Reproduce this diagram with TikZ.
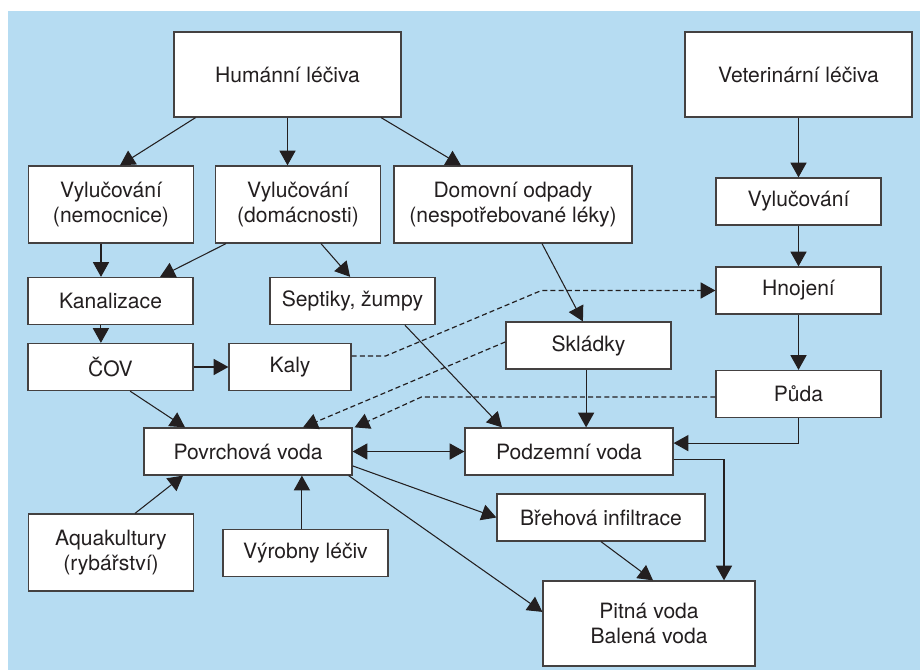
\documentclass[tikz,border=0pt]{standalone}
\usepackage{fontspec}
\setmainfont{TeX Gyre Heros}
\usetikzlibrary{arrows.meta}
\definecolor{bgblue}{RGB}{182,220,242}
\definecolor{ink}{RGB}{35,31,32}
\begin{document}
\begin{tikzpicture}[
  x=0.25mm,
  y=-0.25mm,
  font=\fontsize{15}{18}\selectfont,
  box/.style={
    draw=ink!85,
    fill=white,
    text=ink,
    line width=0.9pt,
    align=center,
    inner sep=0pt,
    minimum width=41.25mm,
    minimum height=11.75mm
  },
  tallbox/.style={box, minimum height=19.25mm},
  bigbox/.style={box, minimum width=56.75mm, minimum height=21.25mm},
  widebox/.style={box, minimum width=52mm},
  tip/.tip={Triangle[length=10.5pt,width=11.5pt]},
  flow/.style={draw=ink, line width=0.75pt, -tip},
  dflow/.style={flow, line width=0.85pt, dash pattern=on 3.6pt off 2.2pt}
]

% background panel
\useasboundingbox (0,0) rectangle (920,670);
\fill[bgblue] (8,11) rectangle (920,670);

% ---------------------------------------------------------------------------
% human side
% ---------------------------------------------------------------------------
\node[bigbox] (hum) at (287.5,74.5) {Humánní léčiva};
\node[tallbox] (vylnem) at (111,204.5) {Vylučování\\(nemocnice)};
\node[tallbox] (vyldom) at (298,204.5) {Vylučování\\(domácnosti)};
\node[tallbox, minimum width=59.5mm] (odpady) at (513,204.5)
  {Domovní odpady\\(nespotřebované léky)};
\node[box] (kanal) at (110.5,301) {Kanalizace};
\node[box] (septik) at (352.5,301) {Septiky, žumpy};
\node[box] (cov) at (110.5,367) {ČOV};
\node[box, minimum width=30.5mm] (kaly) at (290,367) {Kaly};
\node[box] (skladky) at (588.5,345.5) {Skládky};

% ---------------------------------------------------------------------------
% veterinary side
% ---------------------------------------------------------------------------
\node[bigbox] (vet) at (798.5,74.5) {Veterinární léčiva};
\node[box] (vylvet) at (798.5,201.5) {Vylučování};
\node[box] (hnoj) at (798.5,290.5) {Hnojení};
\node[box] (puda) at (798.5,394) {Půda};

% ---------------------------------------------------------------------------
% waters
% ---------------------------------------------------------------------------
\node[widebox] (povrch) at (248,451.5) {Povrchová voda};
\node[widebox] (podzem) at (569,451.5) {Podzemní voda};
\node[widebox] (breh) at (601,517.5) {Břehová infiltrace};
\node[tallbox] (aqua) at (111,552.5) {Aquakultury\\(rybářství)};
\node[box] (vyrob) at (305.5,553) {Výrobny léčiv};
\node[bigbox, minimum width=53mm] (pitna) at (649,623.5) {Pitná voda\\Balená voda};

% connectors
\draw[flow] ([xshift=-23mm]hum.south) -- ([xshift=2.25mm]vylnem.north);
\draw[flow] (hum.south) -- (hum.south |- vyldom.north);
\draw[flow] ([xshift=23.4mm]hum.south) -- ([xshift=-13mm]odpady.north);
\draw[flow] ([xshift=-2.5mm]vylnem.south) -- ([xshift=-2.5mm]vylnem.south |- kanal.north);
\draw[flow] ([xshift=-18mm]vyldom.south) -- ([xshift=12.4mm]kanal.north);
\draw[flow] ([xshift=5.75mm]vyldom.south) -- ([xshift=-0.6mm]septik.north);
\draw[flow] ([xshift=7.25mm]odpady.south) -- ([xshift=-1.4mm]skladky.north);
\draw[flow] ([xshift=-2.4mm]kanal.south) -- ([xshift=-2.4mm]kanal.south |- cov.north);
\draw[flow] (cov.east) -- (kaly.west);
\draw[flow] ([xshift=4.9mm]cov.south) -- ([xshift=-15.75mm]povrch.north);

\draw[flow] (vet.south) -- (vylvet.north);
\draw[flow] (vylvet.south) -- (hnoj.north);
\draw[flow] (hnoj.south) -- (puda.north);

% dashed transfers
\draw[dflow] ([yshift=2.75mm]kaly.east) -- ++(34,0)
  -- ([xshift=-43.5mm]hnoj.west) -- (hnoj.west);
\draw[dflow] ([yshift=0.9mm]skladky.west) -- ([xshift=13.75mm]povrch.north);
\draw[dflow] ([yshift=-0.75mm]puda.west) -- ([xshift=-73.5mm,yshift=-0.75mm]puda.west)
  -- ([xshift=0.5mm]povrch.north east);

\draw[flow] ([xshift=13.1mm]septik.south) -- ([xshift=-16.75mm]podzem.north);
\draw[flow] ([xshift=-0.6mm]skladky.south) -- ([xshift=-0.6mm]skladky.south |- podzem.north);
\draw[flow] (puda.south) |- ([yshift=2.1mm]podzem.east);
\draw[flow, tip-tip] (povrch.east) -- (podzem.west);
\draw[flow] ([yshift=-3.6mm]povrch.east) -- (breh.west);
\draw[flow] ([xshift=-1mm]povrch.south east) -- ([yshift=2.9mm]pitna.west);
\draw[flow] (breh.south) -- ([xshift=1mm]pitna.north);
\draw[flow] ([yshift=-1.9mm]podzem.east) -| ([xshift=18.75mm]pitna.north);
\draw[flow] ([xshift=6mm]aqua.north) -- ([xshift=-16.25mm]povrch.south);
\draw[flow] ([xshift=-0.9mm]vyrob.north) -- ([xshift=-0.9mm]vyrob.north |- povrch.south);
\end{tikzpicture}
\end{document}
